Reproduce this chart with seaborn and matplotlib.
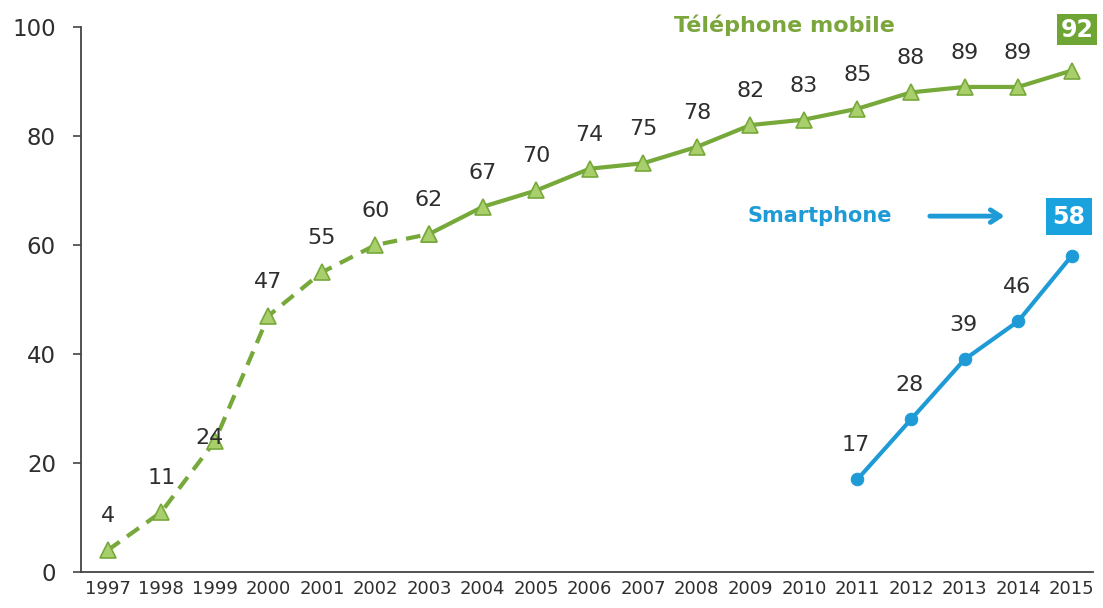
import matplotlib
matplotlib.use("Agg")
import matplotlib.pyplot as plt
import seaborn as sns
import pandas as pd
import numpy as np

years = list(range(1997, 2016))
mobile = [4, 11, 24, 47, 55, 60, 62, 67, 70, 74, 75, 78, 82, 83, 85, 88, 89, 89, 92]
smart_years = [2011, 2012, 2013, 2014, 2015]
smart = [17, 28, 39, 46, 58]
y_ticks = [0, 20, 40, 60, 80, 100]

GREEN = "#77a83a"
GREEN_FILL = "#a9cf6c"
BLUE = "#1e9bd7"
TXT = "#2e2e2e"

sns.set_style("white")
plt.rcParams['font.family'] = ['DejaVu Sans']

df_m = pd.DataFrame({"year": years, "val": mobile})
df_dash = df_m[df_m.year <= 2003]
df_solid = df_m[df_m.year >= 2003]
df_s = pd.DataFrame({"year": smart_years, "val": smart})

fig = plt.figure(figsize=(11.03, 6.08), dpi=100)
ax = fig.add_axes([0.0734, 0.0592, 0.9176, 0.8964])

sns.lineplot(data=df_dash, x="year", y="val", ax=ax, color=GREEN, lw=3,
             linestyle=(0, (3.5, 2.2)), marker="^", markersize=11,
             markerfacecolor=GREEN_FILL, markeredgecolor=GREEN, markeredgewidth=1.2)
sns.lineplot(data=df_solid, x="year", y="val", ax=ax, color=GREEN, lw=3,
             marker="^", markersize=11,
             markerfacecolor=GREEN_FILL, markeredgecolor=GREEN, markeredgewidth=1.2)
sns.lineplot(data=df_s, x="year", y="val", ax=ax, color=BLUE, lw=3,
             marker="o", markersize=9, markeredgecolor=BLUE, markerfacecolor=BLUE)

# value labels
for i, (x, v) in enumerate(zip(years, mobile)):
    if x == 2015:
        continue
    dx, dy = 0, 24.5
    if x == 1999:
        dx, dy = -4, 2
    ax.annotate(str(v), (x, v), xytext=(dx, dy), textcoords="offset points",
                ha="center", va="center", fontsize=16, color=TXT)
for x, v in zip(smart_years, smart):
    if x == 2015:
        continue
    ax.annotate(str(v), (x, v), xytext=(-1, 25), textcoords="offset points",
                ha="center", va="center", fontsize=16, color=TXT)

# boxed last values
ax.text(2015.1, 99.5, str(mobile[-1]), ha="center", va="center", fontsize=17,
        fontweight="bold", color="white",
        bbox=dict(boxstyle="square,pad=0.15", fc="#6ea535", ec="none"), clip_on=False)
ax.text(2014.95, 65.2, str(smart[-1]), ha="center", va="center", fontsize=17,
        fontweight="bold", color="white",
        bbox=dict(boxstyle="square,pad=0.28", fc="#1aa2de", ec="none"), clip_on=False)

# series names
ax.text(2009.64, 100.3, "Téléphone mobile", ha="center", va="center", fontsize=16,
        fontweight="bold", color="#7ba63c", clip_on=False)
ax.text(2010.3, 65.3, "Smartphone", ha="center", va="center", fontsize=15,
        fontweight="bold", color=BLUE)
ax.annotate("", xy=(2013.8, 65.3), xytext=(2012.3, 65.3),
            arrowprops=dict(arrowstyle="->,head_length=0.7,head_width=0.45", color=BLUE, lw=3.5))

ax.set_xlim(1996.5, 2015.4)
ax.set_ylim(0, 100)
ax.set_yticks(y_ticks)
ax.set_xticks(years)
ax.set_xticklabels([str(y) for y in years], fontsize=13, color=TXT)
ax.set_xticks([y + 0.5 for y in years[:-1]], minor=True)
ax.tick_params(axis="x", which="major", length=0, pad=6)
ax.tick_params(axis="x", which="minor", length=5, width=1.2, color="#444444", direction="out")
ax.tick_params(axis="y", labelsize=16.5, labelcolor=TXT, length=6, width=1.2,
               color="#444444", direction="out", left=True, pad=12)
ax.set_xlabel("")
ax.set_ylabel("")
for s in ["top", "right"]:
    ax.spines[s].set_visible(False)
for s in ["left", "bottom"]:
    ax.spines[s].set_color("#444444")
    ax.spines[s].set_linewidth(1.3)
ax.grid(False)

fig.savefig("out.png", dpi=100)
